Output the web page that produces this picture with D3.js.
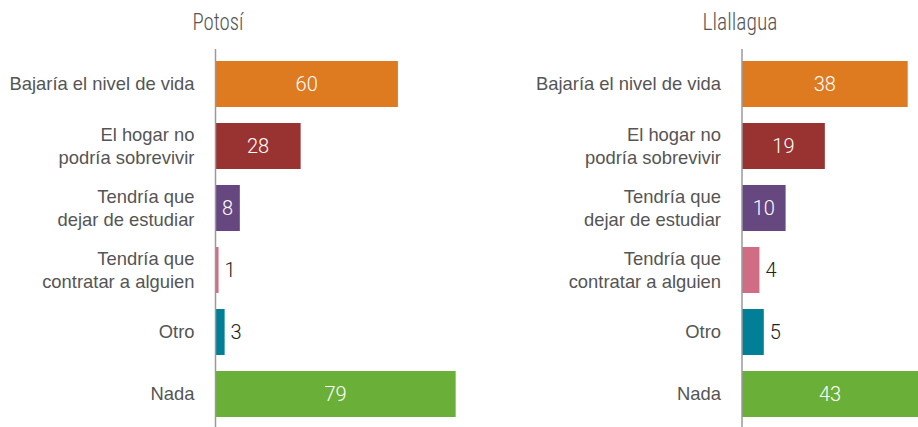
<!DOCTYPE html>
<html><head><meta charset="utf-8">
<script src="https://cdn.jsdelivr.net/npm/d3@7"></script>
<style>
html,body{margin:0;padding:0;background:#fff;}
svg{display:block;}
</style></head>
<body>
<script>
const categories = [
  ["Bajaría el nivel de vida"],
  ["El hogar no", "podría sobrevivir"],
  ["Tendría que", "dejar de estudiar"],
  ["Tendría que", "contratar a alguien"],
  ["Otro"],
  ["Nada"]
];
const potosiValues = [60, 28, 8, 1, 3, 79];
const llallaguaValues = [38, 19, 10, 4, 5, 43];
const panelTitles = ["Potosí", "Llallagua"];
const barColors = ["#DE7A20", "#993331", "#674780", "#D06D84", "#007F96", "#6AAF37"];

const W = 918, H = 427;
const svg = d3.select("body").append("svg").attr("width", W).attr("height", H);

const y = d3.scaleBand().domain(d3.range(categories.length))
  .range([53, 425]).paddingInner(0.258).paddingOuter(0.129);

const panels = [
  {title: panelTitles[0], values: potosiValues, x0: 215.5, pxPerUnit: 3.04, titleX: 218, titleLen: 51},
  {title: panelTitles[1], values: llallaguaValues, x0: 742, pxPerUnit: 4.36, titleX: 740, titleLen: 75}
];

panels.forEach(p => {
  const x = d3.scaleLinear().domain([0, 100]).range([p.x0, p.x0 + 100 * p.pxPerUnit]);
  const g = svg.append("g");

  g.append("text").attr("x", p.titleX).attr("y", 30)
    .attr("text-anchor", "middle")
    .attr("font-family", "'Liberation Sans Narrow','Roboto Condensed',Roboto,sans-serif")
    .attr("font-weight", 300)
    .attr("font-size", 23).attr("fill", "#555")
    .attr("textLength", p.titleLen).attr("lengthAdjust", "spacingAndGlyphs")
    .text(p.title);

  g.selectAll("rect.bar").data(p.values).join("rect")
    .attr("class", "bar")
    .attr("x", x(0))
    .attr("y", (d, i) => y(i))
    .attr("width", d => x(d) - x(0))
    .attr("height", y.bandwidth())
    .attr("fill", (d, i) => barColors[i]);

  g.append("line").attr("x1", x(0)).attr("x2", x(0)).attr("y1", 49).attr("y2", H)
    .attr("stroke", "#9a9a9a").attr("stroke-width", 1.5);

  // category labels
  categories.forEach((lines, i) => {
    const cy = y(i) + y.bandwidth() / 2;
    const t = g.append("text").attr("text-anchor", "end")
      .attr("font-family", "'Liberation Sans',Arial,sans-serif")
      .attr("font-size", 18.4).attr("fill", "#555");
    lines.forEach((ln, k) => {
      const off = (k - (lines.length - 1) / 2) * 23;
      t.append("tspan").attr("x", x(0) - 21).attr("y", cy + off).attr("dy", "0.35em").text(ln);
    });
  });

  // value labels
  g.selectAll("text.val").data(p.values).join("text")
    .attr("class", "val")
    .attr("font-family", "Roboto,'Liberation Sans',sans-serif")
    .attr("font-weight", 300)
    .attr("font-size", 20)
    .attr("dy", "0.36em")
    .attr("y", (d, i) => y(i) + y.bandwidth() / 2)
    .attr("x", d => d >= 8 ? (x(0) + Math.min(x(d), W) ) / 2 : x(d) + 6)
    .attr("text-anchor", d => d >= 8 ? "middle" : "start")
    .attr("fill", d => d >= 8 ? "#fff" : "#222")
    .text(d => d);
});
</script>
</body></html>
